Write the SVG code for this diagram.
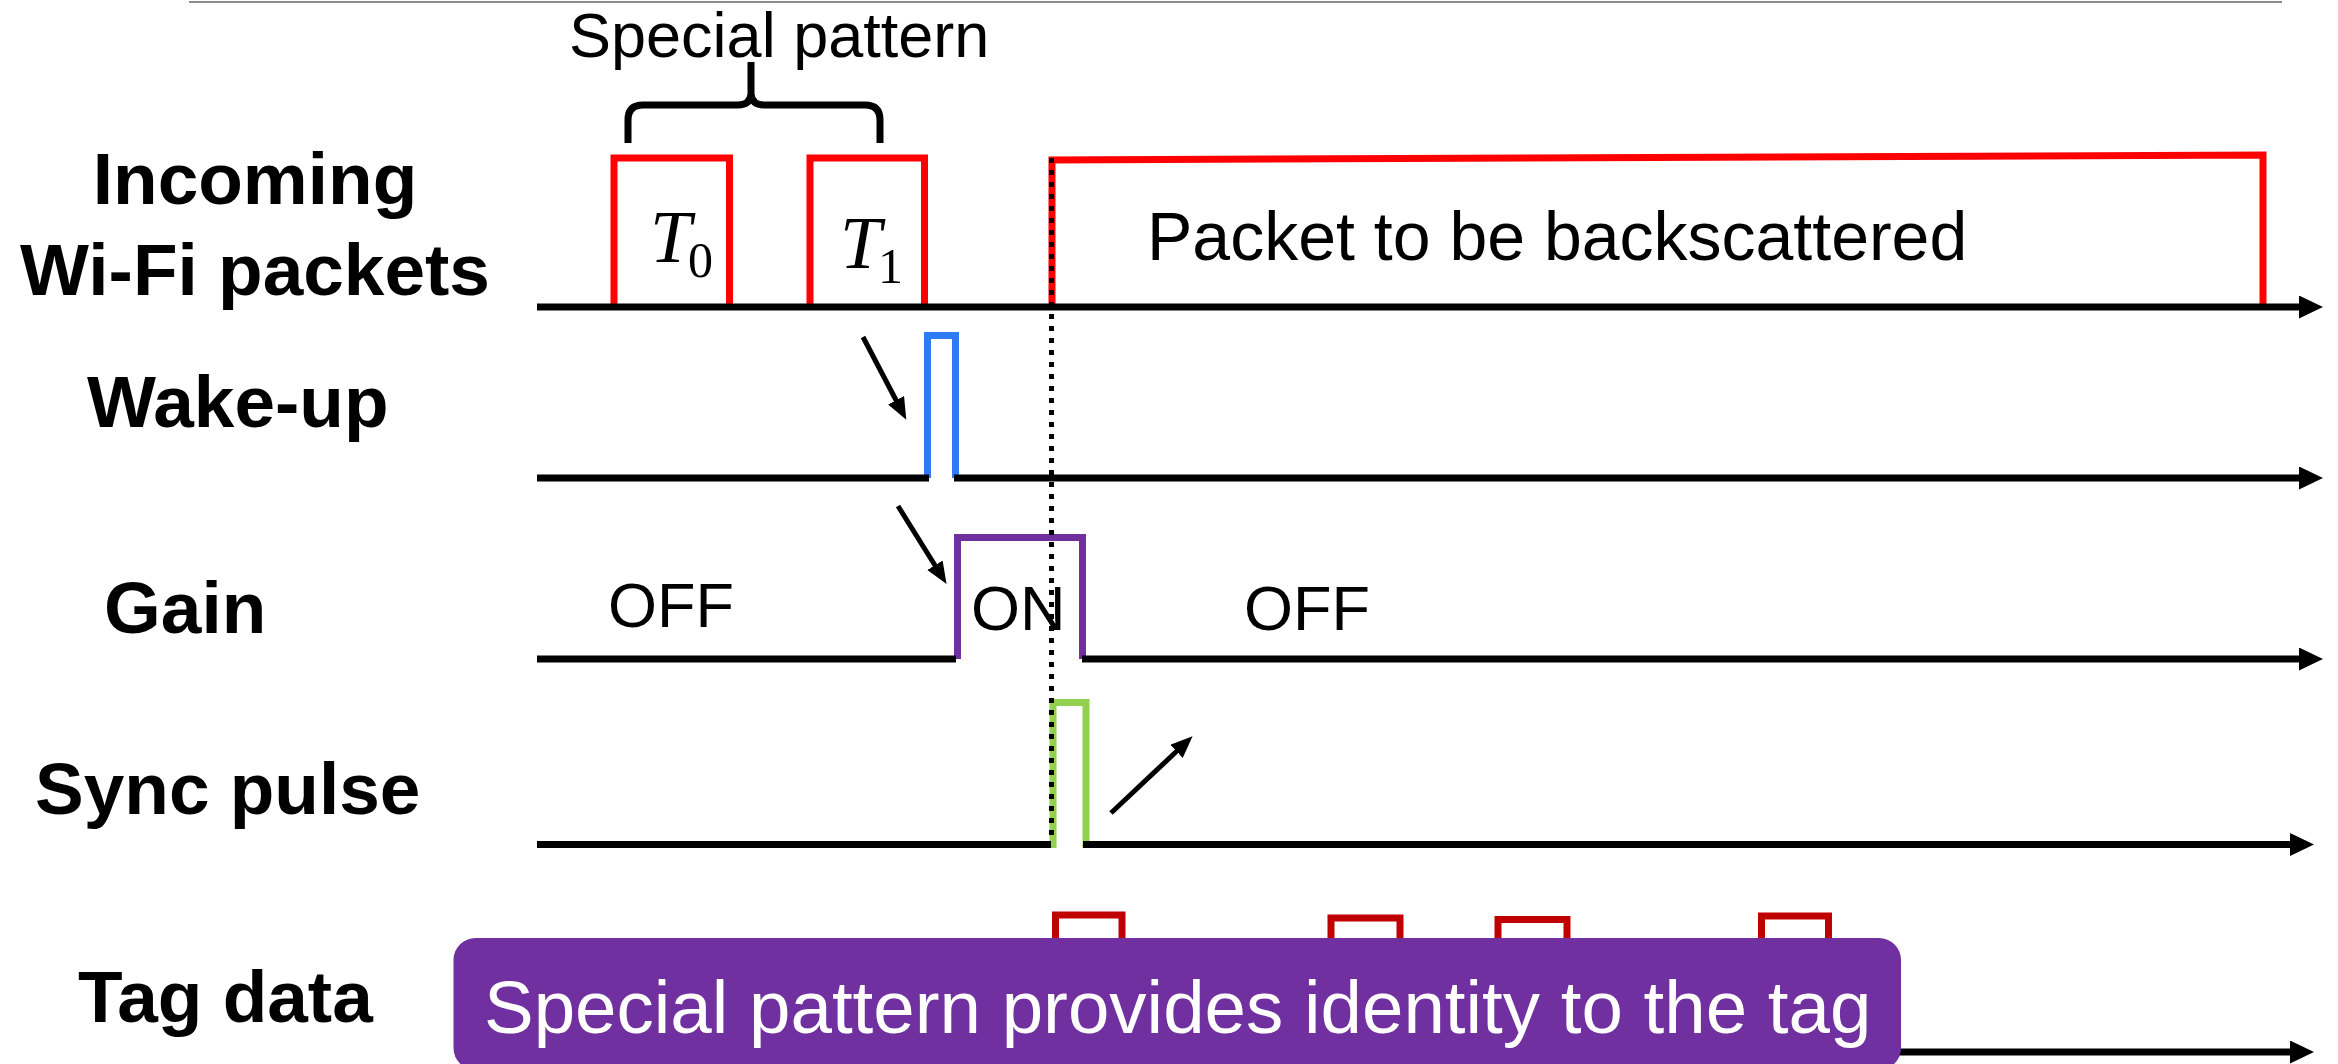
<svg xmlns="http://www.w3.org/2000/svg" width="2338" height="1064" viewBox="0 0 2338 1064">
  <style>
    .label { font-family: "Liberation Sans", Arial, sans-serif; font-weight: bold; font-size: 73px; fill: #000; }
    .note { font-family: "Liberation Sans", Arial, sans-serif; font-size: 63px; fill: #000; }
    .note.big { font-size: 68px; }
    .math { font-family: "Liberation Serif", "Times New Roman", serif; fill: #000; }
    .math.sym { font-size: 74px; font-style: italic; }
    .math.sub { font-size: 50px; }
    .axis { stroke: #000; stroke-width: 7; fill: none; }
    .wave { stroke-width: 7; fill: none; stroke-linejoin: miter; }
    .pointer { stroke: #000; stroke-width: 5; fill: none; }
  </style>
  <defs>
    <marker id="axisHead" markerUnits="userSpaceOnUse" markerWidth="26" markerHeight="26" refX="0" refY="11.5" orient="auto">
      <path d="M0,0 L24,11.5 L0,23 Z" fill="#000"/>
    </marker>
    <marker id="pointerHead" markerUnits="userSpaceOnUse" markerWidth="24" markerHeight="20" refX="2" refY="9" orient="auto">
      <path d="M0,0 L22,9 L0,18 Z" fill="#000"/>
    </marker>
  </defs>

  <rect width="2338" height="1064" fill="#fff"/>
  <line x1="189" y1="2" x2="2282" y2="2" stroke="#8c8c8c" stroke-width="2"/>

  <!-- Incoming Wi-Fi packets -->
  <g id="incoming">
    <text class="label" x="255" y="204" text-anchor="middle">Incoming</text>
    <text class="label" x="255" y="295" text-anchor="middle">Wi-Fi packets</text>
    <g id="special-pattern">
      <text class="note" x="569" y="57">Special pattern</text>
      <path d="M628,143 V120 Q628,105 643,105 H738 Q750,105 751,94 V62 M751,94 Q752,105 764,105 H865 Q880,105 880,120 V143" stroke="#000" stroke-width="7" fill="none"/>
    </g>
    <polyline class="wave" stroke="#ff0000" points="614,307 614,158 729.5,158 729.5,307"/>
    <polyline class="wave" stroke="#ff0000" points="810,307 810,158 924.5,158 924.5,307"/>
    <polyline class="wave" stroke="#ff0000" points="1052,307 1052,160 2263,155 2263,307"/>
    <text class="math sym" x="650" y="262">T</text>
    <text class="math sub" x="688" y="277">0</text>
    <text class="math sym" x="840" y="268">T</text>
    <text class="math sub" x="878" y="283">1</text>
    <text class="note big" x="1147" y="260">Packet to be backscattered</text>
    <line class="axis" x1="537" y1="307" x2="2299" y2="307" marker-end="url(#axisHead)"/>
  </g>

  <!-- Wake-up -->
  <g id="wakeup">
    <text class="label" x="87" y="427">Wake-up</text>
    <polyline class="wave" stroke="#2f7bf5" points="927.5,478 927.5,335.5 955.5,335.5 955.5,478"/>
    <line class="axis" x1="537" y1="478" x2="929" y2="478"/>
    <line class="axis" x1="954" y1="478" x2="2299" y2="478" marker-end="url(#axisHead)"/>
  </g>

  <!-- Gain -->
  <g id="gain">
    <text class="label" x="104" y="633">Gain</text>
    <text class="note" x="608" y="627">OFF</text>
    <text class="note" x="971" y="630">ON</text>
    <text class="note" x="1244" y="630">OFF</text>
    <polyline class="wave" stroke="#7030a0" points="957.5,659 957.5,537.5 1082.5,537.5 1082.5,659"/>
    <line class="axis" x1="537" y1="659" x2="956" y2="659"/>
    <line class="axis" x1="1082" y1="659" x2="2299" y2="659" marker-end="url(#axisHead)"/>
  </g>

  <!-- Sync pulse -->
  <g id="sync">
    <text class="label" x="35" y="814">Sync pulse</text>
    <polyline class="wave" stroke="#92d050" points="1053,848 1053,702.5 1086,702.5 1086,848"/>
    <line class="axis" x1="537" y1="844.5" x2="1051" y2="844.5"/>
    <line class="axis" x1="1083" y1="844.5" x2="2290" y2="844.5" marker-end="url(#axisHead)"/>
  </g>

  <!-- Tag data -->
  <g id="tagdata">
    <text class="label" x="78" y="1022">Tag data</text>
    <polyline class="wave" stroke="#c00000" points="1055.5,1052 1055.5,915 1122,915 1122,1052"/>
    <polyline class="wave" stroke="#c00000" points="1331,1052 1331,918 1400,918 1400,1052"/>
    <polyline class="wave" stroke="#c00000" points="1498,1052 1498,919.5 1567,919.5 1567,1052"/>
    <polyline class="wave" stroke="#c00000" points="1761.5,1052 1761.5,916 1828.5,916 1828.5,1052"/>
    <line class="axis" x1="537" y1="1052" x2="2290" y2="1052" marker-end="url(#axisHead)"/>
  </g>

  <!-- Callout -->
  <g id="callout">
    <rect x="453.5" y="938" width="1447.5" height="132" rx="22" fill="#7030a0"/>
    <text x="484" y="1033" font-family="'Liberation Sans', Arial, sans-serif" font-size="74.5" fill="#fff">Special pattern provides identity to the tag</text>
  </g>

  <!-- Connectors: cause/effect pointers and the alignment marker -->
  <g id="connectors">
    <line class="pointer" x1="863" y1="337" x2="897" y2="402" marker-end="url(#pointerHead)"/>
    <line class="pointer" x1="898" y1="506" x2="936" y2="567" marker-end="url(#pointerHead)"/>
    <line class="pointer" x1="1111" y1="813" x2="1178" y2="750" marker-end="url(#pointerHead)"/>
    <line x1="1051.5" y1="158" x2="1051.5" y2="842" stroke="#000" stroke-width="5" stroke-dasharray="5 7"/>
  </g>
</svg>
